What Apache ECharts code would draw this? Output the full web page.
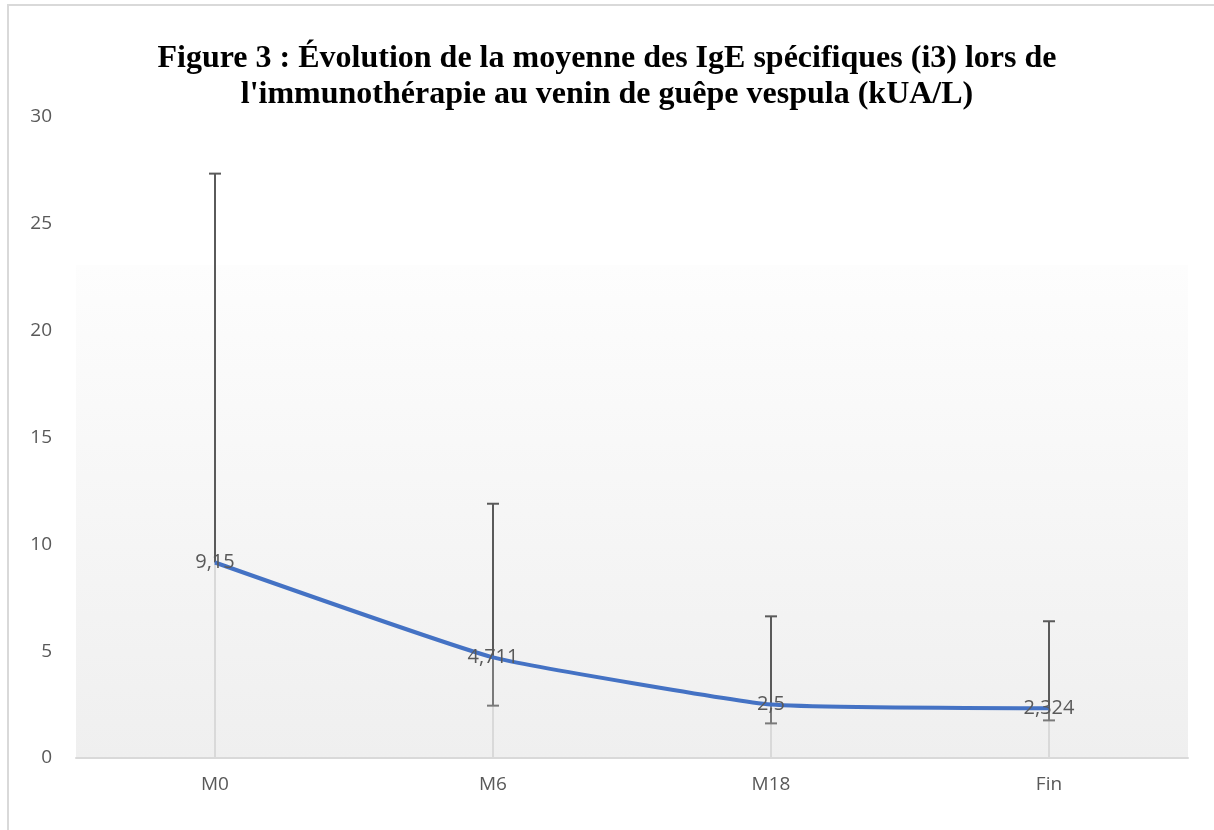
<!DOCTYPE html>
<html>
<head>
<meta charset="utf-8">
<script src="https://cdn.jsdelivr.net/npm/echarts@6/dist/echarts.min.js"></script>
<style>
  html, body { margin: 0; padding: 0; background: #fff; }
  #chart-container { width: 1214px; height: 830px; }
</style>
</head>
<body>
<div id="chart-container"></div>
<script>
// data
var categories = ["M0", "M6", "M18", "Fin"];
var meanValues = [9.15, 4.711, 2.5, 2.324];
var errUpper = [27.35, 11.9, 6.63, 6.4];
var errLower = [null, 2.45, 1.62, 1.76];
var yTicks = [0, 5, 10, 15, 20, 25, 30];

var dom = document.getElementById("chart-container");
var myChart = echarts.init(dom, null, { renderer: "canvas" });

var errData = categories.map(function (c, i) {
  return [i, errLower[i], errUpper[i], meanValues[i]];
});
var dropData = categories.map(function (c, i) {
  return [i, meanValues[i]];
});

var option = {
  backgroundColor: "#ffffff",
  animation: false,
  title: {
    text: "Figure 3 : Évolution de la moyenne des IgE spécifiques (i3) lors de\nl'immunothérapie au venin de guêpe vespula (kUA/L)",
    left: "center",
    top: 36,
    textStyle: {
      fontFamily: "Liberation Serif",
      fontWeight: "bold",
      fontSize: 32,
      lineHeight: 36,
      color: "#000000",
    },
  },
  graphic: [
    {
      // outer frame of the chart area
      type: "polyline",
      shape: { points: [[8, 840], [8, 5], [1220, 5]] },
      style: { stroke: "#d9d9d9", lineWidth: 2, fill: null },
      z: 0,
    },
    {
      // plot area fill
      type: "rect",
      shape: { x: 76, y: 265, width: 1112, height: 493 },
      style: {
        fill: new echarts.graphic.LinearGradient(0, 0, 0, 1, [
          { offset: 0, color: "#fdfdfd" },
          { offset: 1, color: "#efefef" },
        ]),
      },
      z: -10,
      silent: true,
    },
  ],
  grid: {
    left: 76,
    right: 26,
    top: 117,
    bottom: 72,
    containLabel: false,
  },
  xAxis: {
    type: "category",
    data: categories,
    boundaryGap: true,
    axisLine: { lineStyle: { color: "#d9d9d9", width: 2 } },
    axisTick: { show: false },
    axisLabel: {
      color: "#595959",
      fontSize: 19,
      fontFamily: "Open Sans",
      margin: 17,
    },
    splitLine: { show: false },
  },
  yAxis: {
    type: "value",
    min: yTicks[0],
    max: yTicks[yTicks.length - 1],
    interval: 5,
    axisLine: { show: false },
    axisTick: { show: false },
    splitLine: { show: false },
    axisLabel: {
      color: "#595959",
      fontSize: 19,
      fontFamily: "Open Sans",
      margin: 24,
    },
  },
  series: [
    {
      // drop lines from each point to the axis
      type: "custom",
      data: dropData,
      z: 1,
      silent: true,
      renderItem: function (params, api) {
        var p = api.coord([api.value(0), api.value(1)]);
        var b = api.coord([api.value(0), 0]);
        return {
          type: "line",
          shape: { x1: p[0], y1: p[1], x2: b[0], y2: b[1] },
          style: { stroke: "#d9d9d9", lineWidth: 2 },
        };
      },
    },
    {
      // error bars
      type: "custom",
      data: errData,
      z: 2,
      silent: true,
      renderItem: function (params, api) {
        var x = api.value(0);
        var lo = api.value(1);
        var hi = api.value(2);
        var mid = api.value(3);
        var top = api.coord([x, hi]);
        var m = api.coord([x, mid]);
        var cap = 6;
        var children = [
          {
            type: "line",
            shape: { x1: top[0], y1: top[1], x2: m[0], y2: m[1] },
            style: { stroke: "#5a5a5a", lineWidth: 2 },
          },
          {
            type: "line",
            shape: { x1: top[0] - cap, y1: top[1], x2: top[0] + cap, y2: top[1] },
            style: { stroke: "#5a5a5a", lineWidth: 2 },
          },
        ];
        if (lo != null && !isNaN(lo)) {
          var bot = api.coord([x, lo]);
          children.push({
            type: "line",
            shape: { x1: m[0], y1: m[1], x2: bot[0], y2: bot[1] },
            style: { stroke: "#7a7a7a", lineWidth: 2 },
          });
          children.push({
            type: "line",
            shape: { x1: bot[0] - cap, y1: bot[1], x2: bot[0] + cap, y2: bot[1] },
            style: { stroke: "#7a7a7a", lineWidth: 2 },
          });
        }
        return { type: "group", children: children };
      },
    },
    {
      name: "IgE i3",
      type: "line",
      data: meanValues,
      smooth: 0.12,
      symbol: "circle",
      symbolSize: 1,
      z: 3,
      lineStyle: { color: "#4472c4", width: 4 },
      itemStyle: { color: "#4472c4" },
      label: {
        show: true,
        position: "inside",
        color: "#595959",
        fontSize: 20,
        fontFamily: "Open Sans",
        formatter: function (p) {
          return String(p.value).replace(".", ",");
        },
      },
    },
  ],
};

myChart.setOption(option);
window.addEventListener("resize", myChart.resize);
</script>
</body>
</html>
